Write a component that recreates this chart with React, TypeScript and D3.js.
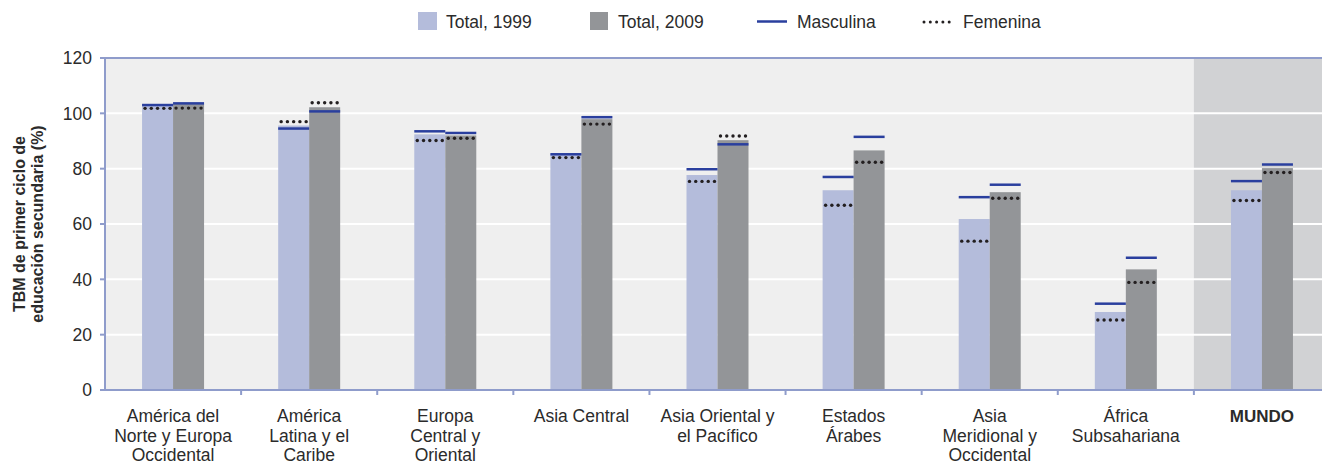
import React from 'react';
import * as d3 from 'd3';

const categories = [
  ['América del', 'Norte y Europa', 'Occidental'],
  ['América', 'Latina y el', 'Caribe'],
  ['Europa', 'Central y', 'Oriental'],
  ['Asia Central'],
  ['Asia Oriental y', 'el Pacífico'],
  ['Estados', 'Árabes'],
  ['Asia', 'Meridional y', 'Occidental'],
  ['África', 'Subsahariana'],
  ['MUNDO'],
];
const total1999 = [102.8, 95.6, 92.4, 85.4, 77.7, 72.2, 61.8, 28.2, 72.2];
const total2009 = [103.4, 102.2, 92.0, 97.9, 90.3, 86.6, 71.5, 43.6, 80.2];
const male1999 = [103.0, 94.5, 93.5, 85.2, 79.8, 77.0, 69.7, 31.2, 75.5];
const male2009 = [103.6, 100.7, 92.9, 98.6, 88.8, 91.5, 74.2, 47.8, 81.5];
const female1999 = [101.8, 97.0, 90.2, 84.0, 75.4, 66.8, 53.8, 25.3, 68.5];
const female2009 = [101.9, 103.8, 91.0, 96.1, 91.8, 82.3, 69.3, 38.9, 78.6];
const yTicks = [0, 20, 40, 60, 80, 100, 120];

const W = 1322;
const H = 464;
const FONT = '"Liberation Sans", Arial, sans-serif';
const C1999 = '#b4bcdb';
const C2009 = '#939598';
const CMALE = '#2a3f9e';
const CFEM = '#231f20';
const CTEXT = '#2b2b2b';
const CAXIS = '#8f9ccb';

export default function App() {
  const keys = categories.map((_, i) => String(i));
  const x = d3.scaleBand().domain(keys).range([105, 1330]).paddingInner(0).paddingOuter(0);
  const y = d3.scaleLinear().domain([0, 120]).range([390, 58]);
  const bw = 31;
  const cx = (i: number) => (x(String(i)) as number) + x.bandwidth() / 2;
  const bx = (i: number, k: number) => cx(i) - bw + k * bw;
  const dots = (i: number, k: number, v: number) =>
    d3.range(5).map((j) => (
      <circle key={j} cx={bx(i, k) + 3 + j * ((bw - 6) / 4)} cy={y(v)} r={1.7} fill={CFEM} />
    ));
  const last = keys[keys.length - 1];

  return (
    <div style={{ position: 'absolute', left: 0, top: 0 }}>
      <svg width={W} height={H} style={{ display: 'block', fontFamily: FONT }}>
        {/* plot background */}
        <rect x={105} y={y(120)} width={1330 - 105} height={y(0) - y(120)} fill="#efefef" />
        <rect x={x(last)} y={y(120)} width={x.bandwidth()} height={y(0) - y(120)} fill="#d1d2d4" />
        {yTicks.slice(1, -1).map((t) => (
          <line key={t} x1={105} x2={W} y1={y(t)} y2={y(t)} stroke="#fff" strokeWidth={2} />
        ))}

        {/* bars */}
        {categories.map((_, i) => (
          <g key={i}>
            <rect x={bx(i, 0)} y={y(total1999[i])} width={bw} height={y(0) - y(total1999[i])} fill={C1999} />
            <rect x={bx(i, 1)} y={y(total2009[i])} width={bw} height={y(0) - y(total2009[i])} fill={C2009} />
            <line x1={bx(i, 0)} x2={bx(i, 0) + bw} y1={y(male1999[i])} y2={y(male1999[i])} stroke={CMALE} strokeWidth={2.5} />
            <line x1={bx(i, 1)} x2={bx(i, 1) + bw} y1={y(male2009[i])} y2={y(male2009[i])} stroke={CMALE} strokeWidth={2.5} />
            {dots(i, 0, female1999[i])}
            {dots(i, 1, female2009[i])}
          </g>
        ))}

        {/* axes */}
        <line x1={105} x2={W} y1={y(120)} y2={y(120)} stroke={CAXIS} strokeWidth={2} />
        <line x1={105} x2={W} y1={y(0)} y2={y(0)} stroke={CAXIS} strokeWidth={2} />
        <line x1={105} x2={105} y1={y(120) - 1} y2={y(0) + 1} stroke={CAXIS} strokeWidth={2} />
        {yTicks.map((t) => (
          <g key={t}>
            <line x1={100} x2={105} y1={y(t)} y2={y(t)} stroke={CAXIS} strokeWidth={2} />
            <text x={92} y={y(t)} dy="0.36em" textAnchor="end" fontSize={17.5} fill={CTEXT}>
              {t}
            </text>
          </g>
        ))}
        {keys.slice(1).map((k) => (
          <line key={k} x1={x(k)} x2={x(k)} y1={y(0)} y2={y(0) + 5} stroke={CAXIS} strokeWidth={2} />
        ))}

        {/* category labels */}
        {categories.map((lines, i) => (
          <text
            key={i}
            x={cx(i)}
            y={422}
            textAnchor="middle"
            fontSize={i === 8 ? 17 : 17.5}
            fontWeight={i === 8 ? 700 : 400}
            fill={CTEXT}
          >
            {lines.map((l, j) => (
              <tspan key={j} x={cx(i)} dy={j === 0 ? 0 : 19.5}>
                {l}
              </tspan>
            ))}
          </text>
        ))}

        {/* y title */}
        <text transform="translate(25,224) rotate(-90)" textAnchor="middle" fontSize={16} fontWeight={700} fill={CTEXT}>
          <tspan x={0} dy={0}>TBM de primer ciclo de</tspan>
          <tspan x={0} dy={18}>educación secundaria (%)</tspan>
        </text>

        {/* legend */}
        <g fontSize={17.5} fill={CTEXT}>
          <rect x={418} y={12} width={19} height={18} fill={C1999} />
          <text x={446} y={28}>Total, 1999</text>
          <rect x={590} y={12} width={18} height={18} fill={C2009} />
          <text x={618} y={28}>Total, 2009</text>
          <line x1={757} x2={787} y1={21.5} y2={21.5} stroke={CMALE} strokeWidth={2.5} />
          <text x={797} y={28}>Masculina</text>
          {d3.range(5).map((j) => (
            <circle key={j} cx={924 + j * 6.3} cy={22} r={1.5} fill={CFEM} />
          ))}
          <text x={963} y={28}>Femenina</text>
        </g>
      </svg>
    </div>
  );
}
